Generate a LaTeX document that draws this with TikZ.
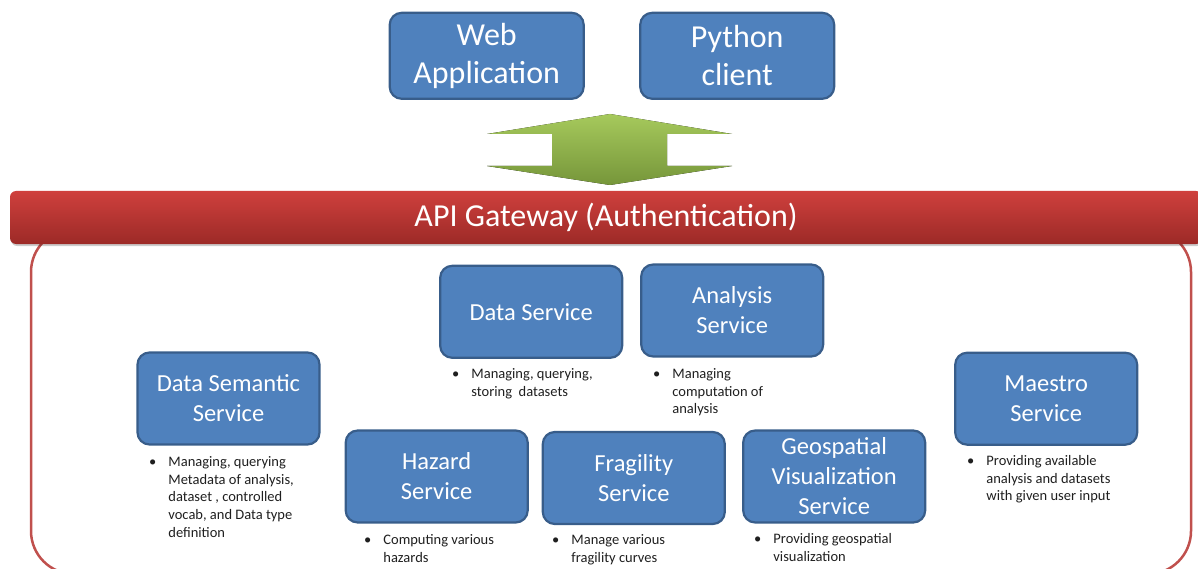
\documentclass[tikz,border=0pt]{standalone}
\usepackage{fontspec}
\setmainfont{Carlito}
\usepackage{xcolor}
\definecolor{boxfill}{HTML}{4F81BD}
\definecolor{boxline}{HTML}{385D8A}
\definecolor{gatetop}{HTML}{CF403D}
\definecolor{gatebot}{HTML}{9C2A27}
\definecolor{frameline}{HTML}{C0504D}
\definecolor{greentop}{HTML}{A6C95C}
\definecolor{greenbot}{HTML}{76963A}
\definecolor{ink}{HTML}{1F1F1F}
\usepackage{tikz}
\usetikzlibrary{positioning}
\newcommand{\bulnote}[1]{\begin{tabular}[t]{@{}l@{\hspace{12pt}}l@{}}\textbullet&\begin{tabular}[t]{@{}l@{}}#1\end{tabular}\end{tabular}}

\begin{document}
\begin{tikzpicture}[x=1pt,y=-1pt,
  client/.style={draw=boxline,fill=boxfill,line width=2.2pt,rounded corners=12pt,
    minimum width=194pt,minimum height=86pt,inner sep=0pt,align=center,text=white,
    font=\fontsize{32}{38}\selectfont},
  svc/.style={draw=boxline,fill=boxfill,line width=2.2pt,rounded corners=12pt,
    minimum width=182pt,minimum height=92pt,inner sep=0pt,align=center,text=white,
    font=\fontsize{24.5}{30}\selectfont},
  note/.style={anchor=north west,inner sep=0pt,text=ink,font=\fontsize{14.5}{17.7}\selectfont},
  gate/.style={top color=gatetop,bottom color=gatebot,rounded corners=6pt,inner sep=0pt,
    minimum width=1192pt,minimum height=53pt,text=white,font=\fontsize{32}{38}\selectfont},
  frame/.style={draw=frameline,line width=2.5pt,rounded corners=43pt},
  updown/.style={top color=greentop,bottom color=greenbot}]
\useasboundingbox (0,0) rectangle (1198,569);
\clip (0,0) rectangle (1198,569);
\draw[frame] (31,229) rectangle (1191,574);
\fill[black,opacity=.2,rounded corners=6pt] (11,193) rectangle (1203,246);
\node[gate] (gw) at (606,217.5) {API Gateway (Authentication)};
\node[client] (web) at (486.7,55.8) {Web\\Application};
\node[client] (py) at (737.2,55.8) {Python\\client};
\fill[updown] (610,114) -- (732,134) -- (667,134) -- (667,166) -- (732,166) -- (610,185)
  -- (487,166) -- (552,166) -- (552,134) -- (487,134) -- cycle;
\node[svc] (ds) at (531.2,311.8) {Data Service};
\node[svc] (as) at (732.2,310.5) {Analysis\\Service};
\node[svc] (dss) at (228.5,398.5) {Data Semantic\\Service};
\node[svc] (hz) at (436.7,476.5) {Hazard\\Service};
\node[svc] (fr) at (633.8,478) {Fragility\\Service};
\node[svc] (geo) at (834.2,476.5) {Geospatial\\Visualization\\Service};
\node[svc] (ms) at (1046.2,398.7) {Maestro\\Service};
\node[note] (ndss) at (149,454) {\bulnote{Managing, querying\\Metadata of analysis,\\dataset , controlled\\vocab, and Data type\\definition}};
\node[note] (nds) at (452,366) {\bulnote{Managing, querying,\\storing\ \ datasets}};
\node[note] (nas) at (653,366) {\bulnote{Managing\\computation of\\analysis}};
\node[note] (nhz) at (364,532) {\bulnote{Computing various\\hazards}};
\node[note] (nfr) at (552,532) {\bulnote{Manage various\\fragility curves}};
\node[note] (ngeo) at (754,531) {\bulnote{Providing geospatial\\visualization}};
\node[note] (nms) at (967,453) {\bulnote{Providing available\\analysis and datasets\\with given user input}};
\end{tikzpicture}
\end{document}
